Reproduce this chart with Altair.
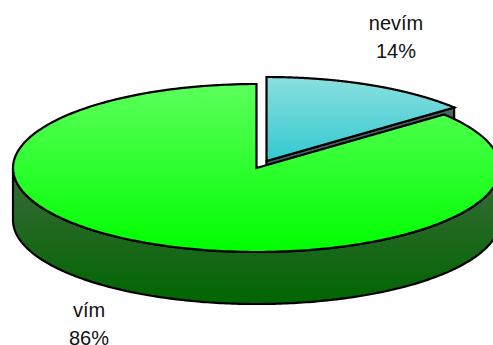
import numpy as np
import altair as alt

categories = ["nevím", "vím"]
shares = [14, 86]

# Disc proportions in units of the disc radius
RADIUS_PX = 243.5
TILT = 84 / RADIUS_PX
DEPTH = 52 / RADIUS_PX
EXPLODE = (10 / RADIUS_PX, 7 / RADIUS_PX)
CENTRE_PX = [256.5, 168]


def rim(start_deg, end_deg, dx=0.0, dy=0.0, n=240):
    t = np.radians(np.linspace(start_deg, end_deg, n))
    return [[float(np.sin(a) + dx), float(np.cos(a) * TILT + dy)] for a in t]


def feature(ring):
    ring = ring + [ring[0]]
    return {"type": "Feature", "properties": {},
            "geometry": {"type": "Polygon", "coordinates": [ring]}}


def vertical(c1, c2):
    return alt.Gradient(gradient="linear", x1=0, y1=0, x2=0, y2=1,
                        stops=[alt.GradientStop(color=c1, offset=0),
                               alt.GradientStop(color=c2, offset=1)])


split = shares[0] / sum(shares) * 360
ex, ey = EXPLODE

# The small slice is pulled out towards the back right
small_rim = rim(0, split, ex, ey)
small_top = feature([[ex, ey]] + small_rim)
tip = small_rim[-1]
small_cut = feature([[ex, ey], tip, [tip[0], tip[1] - DEPTH], [ex, ey - DEPTH]])

# The large slice, with only its front wall showing
large_top = feature([[0.0, 0.0]] + rim(split, 360))
front = rim(90, 270)
large_wall = feature(front + [[x, y - DEPTH] for x, y in reversed(front)])


def shape(feat, fill):
    return (alt.Chart(alt.Data(values=[feat]))
            .mark_geoshape(fill=fill, stroke="black", strokeWidth=2.2, clip=True,
                           strokeJoin="miter")
            .project(type="identity", reflectY=True, scale=RADIUS_PX,
                     translate=CENTRE_PX))


def label(index, x, y):
    return (alt.Chart(alt.Data(values=[{"label": f"{categories[index]}\n{shares[index]}%"}]))
            .mark_text(font="Liberation Sans", fontSize=20, color="#111111",
                       lineBreak="\n", lineHeight=28, align="center", baseline="middle")
            .encode(text="label:N", x=alt.value(x), y=alt.value(y)))


chart = alt.layer(
    shape(small_cut, vertical("#4d6464", "#3d5a5a")),
    shape(small_top, vertical("#8adfdf", "#33c9cf")),
    shape(large_wall, vertical("#3a6a3a", "#006600")),
    shape(large_top, vertical("#5cff5c", "#00ff00")),
    label(0, 396, 24),
    label(1, 89, 311),
).properties(
    width=493, height=345, padding=0,
    autosize=alt.AutoSizeParams(type="none"),
).configure_view(stroke=None)

chart.save("out.html", embed_options={"renderer": "svg", "actions": False})
